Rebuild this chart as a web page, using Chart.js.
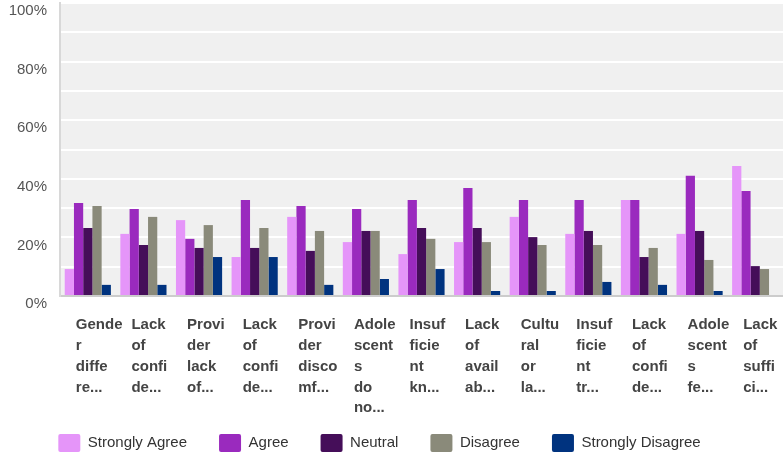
<!DOCTYPE html>
<html>
<head>
<meta charset="utf-8">
<script src="https://cdn.jsdelivr.net/npm/chart.js@4.4.1/dist/chart.umd.min.js"></script>
<style>
  html, body { margin: 0; padding: 0; background: #ffffff; }
  #wrap { width: 783px; height: 453px; }
</style>
</head>
<body>
<div id="wrap"><canvas id="chart"></canvas></div>
<script>
// truncated category labels, already wrapped the way they show
const categories = [
    ["Gende", "r", "diffe", "re..."],
    ["Lack", "of", "confi", "de..."],
    ["Provi", "der", "lack", "of..."],
    ["Lack", "of", "confi", "de..."],
    ["Provi", "der", "disco", "mf..."],
    ["Adole", "scent", "s", "do", "no..."],
    ["Insuf", "ficie", "nt", "kn..."],
    ["Lack", "of", "avail", "ab..."],
    ["Cultu", "ral", "or", "la..."],
    ["Insuf", "ficie", "nt", "tr..."],
    ["Lack", "of", "confi", "de..."],
    ["Adole", "scent", "s", "fe..."],
    ["Lack", "of", "suffi", "ci..."]
];

const stronglyAgree    = [9.2, 21.2, 25.9, 13.3, 27.0, 18.4, 14.3, 18.4, 27.0, 21.2, 32.8, 21.2, 44.4];
const agree            = [31.7, 29.7, 19.5, 32.8, 30.7, 29.7, 32.8, 36.9, 32.8, 32.8, 32.8, 41.0, 35.8];
const neutral          = [23.2, 17.4, 16.4, 16.4, 15.4, 22.2, 23.2, 23.2, 20.1, 22.2, 13.3, 22.2, 10.2];
const disagree         = [30.7, 27.0, 24.2, 23.2, 22.2, 22.2, 19.5, 18.4, 17.4, 17.4, 16.4, 12.3, 9.2];
const stronglyDisagree = [3.8, 3.8, 13.3, 13.3, 3.8, 5.8, 9.2, 1.7, 1.7, 4.8, 3.8, 1.7, 0];

const yLabelled = [0, 20, 40, 60, 80, 100]; // only these gridlines get a label

const FONT = 'Arial, "Liberation Sans", Helvetica, sans-serif';
const PLOT_BOTTOM = 296;

// grey plot background
const plotBg = {
    id: 'plotBg',
    beforeDraw(chart) {
        const { ctx, chartArea: a } = chart;
        ctx.save();
        ctx.fillStyle = '#f0f0f0';
        ctx.fillRect(a.left, a.top, a.right - a.left, a.bottom - a.top);
        ctx.restore();
    }
};

// nudge the legend a bit lower / left, and let the x labels run past the legend's top
const legendNudge = {
    id: 'legendNudge',
    afterLayout(chart) {
        const lg = chart.legend;
        if (lg) {
            lg.top += 9; lg.bottom += 9;
            lg.left -= 12; lg.right -= 12;
        }
        chart.scales.x.bottom = chart.height;
    }
};

function makeSet(label, data, color) {
    return {
        label: label,
        data: data,
        backgroundColor: color,
        borderWidth: 0,
        categoryPercentage: 0.83,
        barPercentage: 1.0
    };
}

new Chart(document.getElementById('chart'), {
    type: 'bar',
    data: {
        labels: categories,
        datasets: [
            makeSet('Strongly Agree', stronglyAgree, '#e595f9'),
            makeSet('Agree', agree, '#9a2abe'),
            makeSet('Neutral', neutral, '#450e59'),
            makeSet('Disagree', disagree, '#8a8a7a'),
            makeSet('Strongly Disagree', stronglyDisagree, '#00337f')
        ]
    },
    options: {
        responsive: true,
        maintainAspectRatio: false,
        animation: false,
        layout: { padding: { top: 3, right: 0, left: 0, bottom: 0 } },
        scales: {
            x: {
                grid: { display: false, drawTicks: false },
                border: { display: true, color: '#cccccc', width: 2 },
                ticks: {
                    autoSkip: false,
                    maxRotation: 0,
                    minRotation: 0,
                    align: 'start',
                    labelOffset: -12,
                    padding: 19,
                    color: '#444444',
                    font: { family: FONT, size: 15, weight: 'bold', lineHeight: 1.38 }
                },
                afterFit(scale) {
                    scale.paddingLeft = 0;
                    scale.paddingRight = 0;
                    const lgH = scale.chart.legend ? scale.chart.legend.height : 0;
                    scale.height = scale.chart.height - lgH - PLOT_BOTTOM;
                }
            },
            y: {
                min: 0,
                max: 100,
                grid: { color: '#ffffff', lineWidth: 2, drawTicks: false },
                border: { display: true, color: '#d8d8d8', width: 2 },
                ticks: {
                    stepSize: 10,
                    padding: 13,
                    labelOffset: 8,
                    color: '#555555',
                    font: { family: FONT, size: 15 },
                    callback: v => yLabelled.includes(v) ? v + '%' : ''
                },
                afterFit(scale) {
                    scale.width = 60;
                    scale.paddingTop = 0;
                }
            }
        },
        plugins: {
            tooltip: { enabled: false },
            legend: {
                position: 'bottom',
                labels: {
                    boxWidth: 22,
                    boxHeight: 18,
                    useBorderRadius: true,
                    borderRadius: 2,
                    padding: 32,
                    color: '#333333',
                    font: { family: FONT, size: 15 }
                }
            }
        }
    },
    plugins: [plotBg, legendNudge]
});
</script>
</body>
</html>
